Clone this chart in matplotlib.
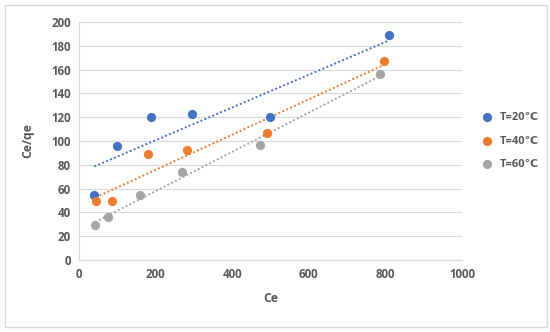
import numpy as np
import matplotlib.pyplot as plt
from matplotlib.patches import Rectangle

# Data
ce_20 = [40, 98, 187, 296, 500, 810]
ceqe_20 = [55, 96, 120.5, 123, 120.5, 189.5]
ce_40 = [44, 85, 179, 282, 492, 796]
ceqe_40 = [49.6, 49.8, 89, 92.4, 106.5, 167.5]
ce_60 = [42, 77, 160, 270, 473, 787]
ceqe_60 = [29.5, 36.5, 54.5, 74.2, 96.4, 156.5]

series = [
    ("T=20℃", ce_20, ceqe_20, "#4472C4"),
    ("T=40℃", ce_40, ceqe_40, "#ED7D31"),
    ("T=60℃", ce_60, ceqe_60, "#A5A5A5"),
]

text_col = "#595959"
plt.rcParams['font.family'] = ['Open Sans', 'DejaVu Sans']

fig = plt.figure(figsize=(5.5, 3.32), dpi=100)
ax = fig.add_axes([0.1436, 0.2169, 0.6964, 0.7168])

for label, x, y, col in series:
    ax.scatter(x, y, s=44, color=col, label=label, zorder=3, linewidths=0)
    # linear trendline across the data range (Excel-style)
    k, b = np.polyfit(x, y, 1)
    xs = np.array([min(x), max(x)])
    ax.plot(xs, k * xs + b, linestyle=(0, (1, 1.2)), color=col, lw=1.4, zorder=2)

ax.set_xlim(0, 1000)
ax.set_ylim(0, 200)
ax.set_xticks(np.arange(0, 1001, 200))
ax.set_yticks(np.arange(0, 201, 20))
ax.grid(axis='y', color='#D9D9D9', lw=0.8)
ax.set_axisbelow(True)
for s in ['top', 'right']:
    ax.spines[s].set_visible(False)
for s in ['left', 'bottom']:
    ax.spines[s].set_color('#D9D9D9')
ax.tick_params(length=0, labelsize=8.3, colors=text_col, pad=6)
for t in ax.get_xticklabels() + ax.get_yticklabels():
    t.set_fontweight('bold')

ax.set_xlabel("Ce", fontsize=8.8, fontweight='bold', color=text_col, labelpad=8)
ax.set_ylabel("Ce/qe", fontsize=8.8, fontweight='bold', color=text_col, labelpad=12)

leg = ax.legend(loc='center left', bbox_to_anchor=(1.025, 0.5), frameon=False,
                fontsize=8, handletextpad=0.1, labelspacing=1.1,
                markerscale=1.0, borderaxespad=0)
for t in leg.get_texts():
    t.set_color(text_col)
    t.set_fontweight('bold')

# outer chart border
fig.patches.append(Rectangle((0.009, 0.015), 0.985, 0.97, transform=fig.transFigure,
                             fill=False, edgecolor='#D9D9D9', lw=1.0))

fig.savefig("out.png", dpi=100)
